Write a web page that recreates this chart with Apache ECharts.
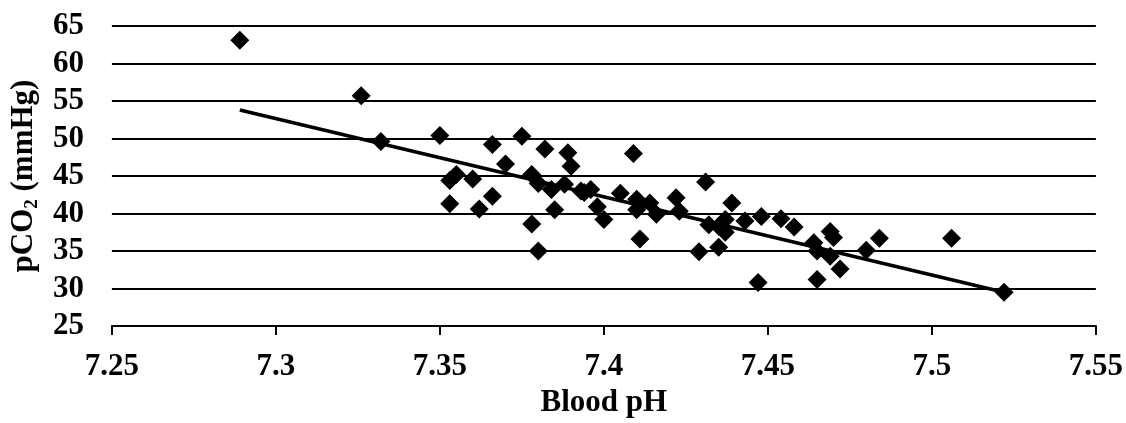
<!DOCTYPE html>
<html>
<head>
<meta charset="utf-8">
<script src="https://cdn.jsdelivr.net/npm/echarts@6/dist/echarts.min.js"></script>
<style>
html,body{margin:0;padding:0;background:#fff;}
#c{width:1126px;height:423px;}
</style>
</head>
<body>
<div id="c"></div>
<script>
var bloodPH = [7.289, 7.326, 7.332, 7.350, 7.366, 7.375, 7.370, 7.382, 7.389, 7.390,
  7.353, 7.355, 7.360, 7.353, 7.362, 7.366, 7.378, 7.380, 7.384, 7.388,
  7.385, 7.378, 7.380, 7.393, 7.409, 7.394, 7.396, 7.398, 7.400, 7.405,
  7.410, 7.410, 7.414, 7.416, 7.411, 7.422, 7.423, 7.431, 7.439, 7.432,
  7.435, 7.437, 7.437, 7.429, 7.435, 7.443, 7.448, 7.454, 7.458, 7.447,
  7.464, 7.465, 7.469, 7.470, 7.465, 7.469, 7.472, 7.480, 7.484, 7.506,
  7.522];
var pCO2 = [63.1, 55.7, 49.6, 50.4, 49.2, 50.3, 46.6, 48.6, 48.1, 46.3,
  44.4, 45.2, 44.6, 41.3, 40.6, 42.3, 45.2, 44.0, 43.2, 43.9,
  40.5, 38.6, 35.0, 43.0, 48.0, 42.8, 43.2, 40.9, 39.2, 42.7,
  41.9, 40.5, 41.4, 39.9, 36.6, 42.1, 40.3, 44.2, 41.4, 38.5,
  38.3, 39.2, 37.5, 34.9, 35.5, 39.0, 39.6, 39.3, 38.2, 30.8,
  36.1, 35.0, 37.6, 36.8, 31.2, 34.3, 32.6, 35.1, 36.7, 36.7,
  29.5];
var trendPH = [7.289, 7.522];
var trendPCO2 = [53.8, 29.5];
var xTitle = 'Blood pH';
var yTitle = '{n|pCO}{s|2}{n| (mmHg)}';

var points = bloodPH.map(function(x, i){ return [x, pCO2[i]]; });
var trend = trendPH.map(function(x, i){ return [x, trendPCO2[i]]; });
var font = '"Liberation Serif", "Times New Roman", serif';

var chart = echarts.init(document.getElementById('c'));
chart.setOption({
  animation: false,
  backgroundColor: '#fff',
  grid: {left: 109.5, right: 30, top: 26, bottom: 96.3, containLabel: false},
  xAxis: {
    type: 'value', min: 7.25, max: 7.55, interval: 0.05,
    name: xTitle, nameLocation: 'middle', nameGap: 61,
    nameTextStyle: {fontFamily: font, fontWeight: 'bold', fontSize: 31, color: '#000'},
    axisLine: {show: true, lineStyle: {color: '#000', width: 2}},
    axisTick: {show: true, inside: false, length: 9, lineStyle: {color: '#000', width: 2}},
    splitLine: {show: false},
    axisLabel: {fontFamily: font, fontWeight: 'bold', fontSize: 31, color: '#000', margin: 25,
      formatter: function(v){ return String(parseFloat(v.toFixed(2))); }}
  },
  yAxis: {
    type: 'value', min: 25, max: 65, interval: 5,
    name: yTitle, nameLocation: 'middle', nameGap: 60, nameRotate: 90,
    nameTextStyle: {
      rich: {
        n: {fontFamily: font, fontWeight: 'bold', fontSize: 31, color: '#000'},
        s: {fontFamily: font, fontWeight: 'bold', fontSize: 19, color: '#000', verticalAlign: 'bottom', padding: [18, 0, 0, 0]}
      }
    },
    axisLine: {show: false},
    axisTick: {show: false},
    splitLine: {show: true, lineStyle: {color: '#000', width: 2}},
    axisLabel: {fontFamily: font, fontWeight: 'bold', fontSize: 31, color: '#000', margin: 28}
  },
  series: [
    {
      type: 'scatter', data: points, symbol: 'diamond', symbolSize: 19,
      itemStyle: {color: '#000', opacity: 1}, z: 3
    },
    {
      type: 'line', data: trend, symbol: 'none', lineStyle: {color: '#000', width: 3.5}, z: 2
    }
  ]
});
</script>
</body>
</html>
